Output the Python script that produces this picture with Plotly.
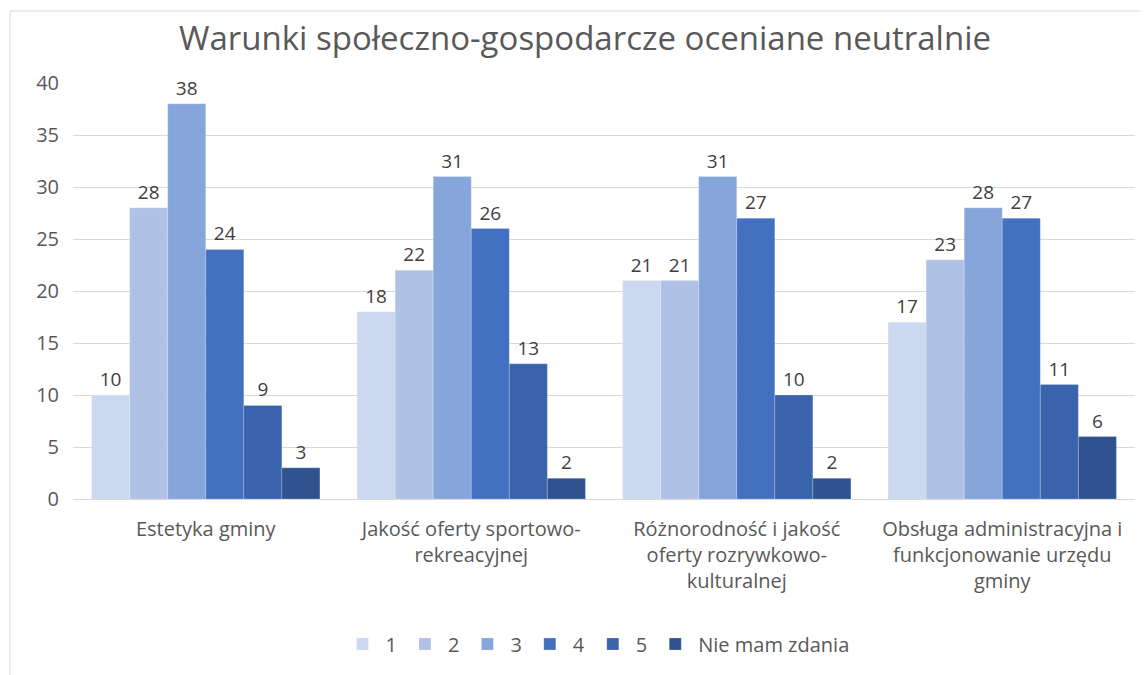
import plotly.graph_objects as go

categories = ["Estetyka gminy", "Jakość oferty sportowo-rekreacyjnej",
              "Różnorodność i jakość oferty rozrywkowo-kulturalnej",
              "Obsługa administracyjna i funkcjonowanie urzędu gminy"]
tick_labels = ["Estetyka gminy", "Jakość oferty sportowo-<br>rekreacyjnej",
               "Różnorodność i jakość<br>oferty rozrywkowo-<br>kulturalnej",
               "Obsługa administracyjna i<br>funkcjonowanie urzędu<br>gminy"]
series_names = ["1", "2", "3", "4", "5", "Nie mam zdania"]
values = {
    "1": [10, 18, 21, 17],
    "2": [28, 22, 21, 23],
    "3": [38, 31, 31, 28],
    "4": [24, 26, 27, 27],
    "5": [9, 13, 10, 11],
    "Nie mam zdania": [3, 2, 2, 6],
}
colors = ["#CBD8EF", "#AFC2E5", "#86A5DA", "#4370C0", "#3963AB", "#30538F"]

FONT = "Open Sans, sans-serif"
W, H = 1140, 667          # page body has an 8px margin
L, R, T, B = 65, 13, 75, 176
PW, PH = W - L - R, H - T - B

fig = go.Figure()
for name, col in zip(series_names, colors):
    fig.add_trace(go.Bar(
        name=name, x=categories, y=values[name],
        marker=dict(color=col, line=dict(color="rgba(255,255,255,0.35)", width=0.6)),
        text=values[name], textposition="outside", cliponaxis=False,
        textfont=dict(family=FONT, size=19, color="#404040"),
    ))

fig.update_layout(
    width=W, height=H,
    paper_bgcolor="white", plot_bgcolor="white",
    barmode="group", bargap=0.14, bargroupgap=0,
    margin=dict(l=L, r=R, t=T, b=B),
    title=dict(text="Warunki społeczno-gospodarcze oceniane neutralnie",
               x=577 / W, xanchor="center", y=1 - 30 / H, yanchor="middle",
               font=dict(family=FONT, size=33, color="#595959")),
    font=dict(family=FONT, color="#595959"),
    showlegend=True,
    legend=dict(orientation="h", x=(589 - L) / PW, xanchor="center",
                y=(T + PH - 636) / PH, yanchor="middle",
                font=dict(size=20, color="#595959"), traceorder="normal",
                itemwidth=36),
)
fig.update_yaxes(range=[0, 40], dtick=5, showgrid=True, gridcolor="#D9D9D9", gridwidth=1,
                 zeroline=True, zerolinecolor="#D9D9D9", zerolinewidth=1,
                 tickfont=dict(size=20, color="#595959"), ticks="", showline=False,
                 ticklabelstandoff=13)
fig.update_xaxes(tickmode="array", tickvals=categories, ticktext=tick_labels,
                 tickfont=dict(size=20, color="#595959"), showline=False, ticks="",
                 ticklabelstandoff=16)

# chart-area border
fig.add_shape(type="rect", xref="paper", yref="paper",
              x0=(2 - L) / PW, x1=1.2, y0=-1.0, y1=1 + (T - 3) / PH,
              line=dict(color="#D9D9D9", width=1), fillcolor="rgba(0,0,0,0)", layer="below")

fig.write_html("out.html")
